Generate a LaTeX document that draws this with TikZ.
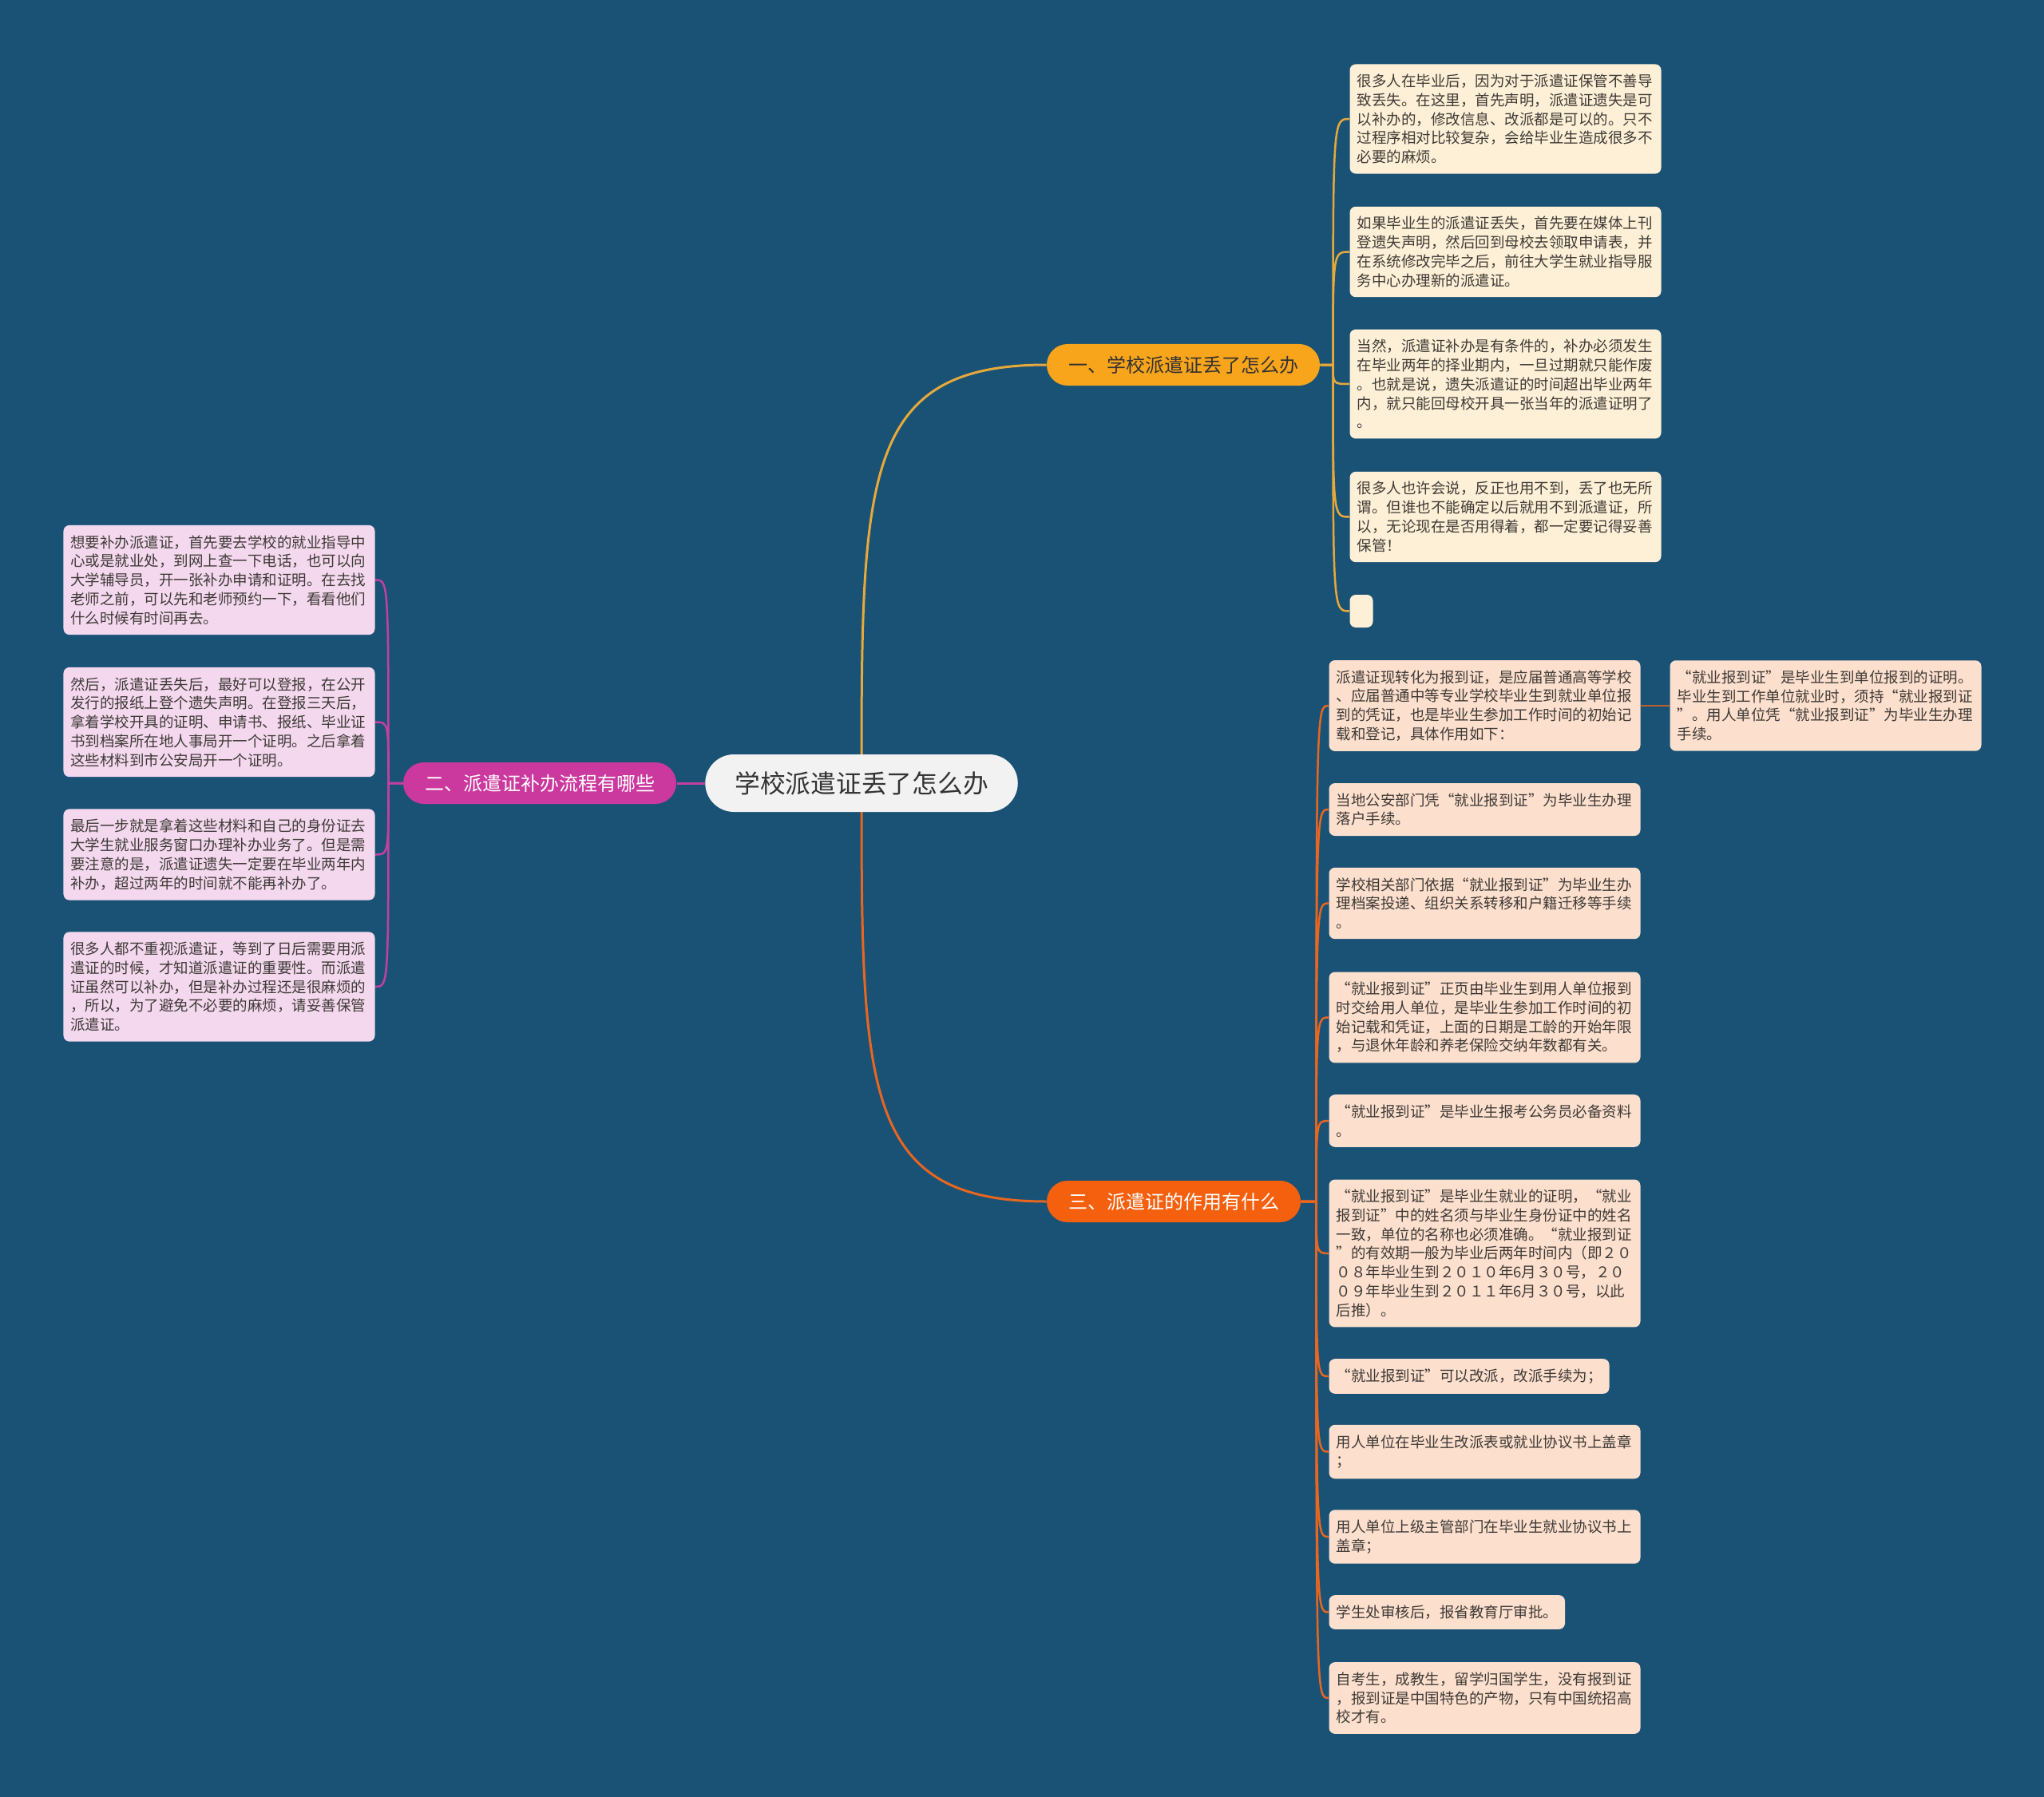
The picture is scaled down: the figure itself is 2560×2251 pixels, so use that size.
\documentclass[tikz,border=0pt]{standalone}
\usepackage{fontspec}
\newfontfamily\cjk{Noto Sans CJK SC}
\usetikzlibrary{positioning, calc, backgrounds}
\definecolor{bgBlue}{HTML}{1A5276}
\definecolor{mGold}{HTML}{F9A51C}
\definecolor{mGoldLine}{HTML}{E6A93A}
\definecolor{mPink}{HTML}{CB389E}
\definecolor{mPinkLine}{HTML}{C2409E}
\definecolor{mOrange}{HTML}{F5600F}
\definecolor{mOrangeLine}{HTML}{E8661F}
\definecolor{mRust}{HTML}{B9612F}
\definecolor{mCream}{HTML}{FEF0D6}
\definecolor{mRose}{HTML}{F4D8EE}
\definecolor{mPeach}{HTML}{FCDFCD}
\definecolor{mText}{HTML}{3E3A36}

\tikzset{
  topic/.style={rounded corners=10.4pt, minimum height=20.8pt, inner xsep=10.8pt, inner ysep=0pt,
    font=\cjk\fontsize{9.6}{11}\selectfont},
  leaf/.style={rounded corners=3pt, align=left, inner xsep=3.6pt, inner ysep=5pt, text=mText,
    font=\cjk\fontsize{7.4}{9.5}\selectfont},
  wide/.style={text width=148.8pt},
  branch/.style={line width=1.2pt},
  twig/.style={line width=1pt}
}

\begin{document}
\begin{tikzpicture}[x=0.4pt, y=-0.4pt]
    \node[topic, fill=black!5, text=black!80, minimum height=28.8pt, rounded corners=14.4pt, inner xsep=14.8pt,
      font=\cjk\fontsize{12.7}{14}\selectfont] (root) at (1079,981) {学校派遣证丢了怎么办};
    \node[topic, fill=mGold, text=black!80] (b1) at (1482,457) {一、学校派遣证丢了怎么办};
    \node[topic, fill=mPink, text=white] (b2) at (676,981) {二、派遣证补办流程有哪些};
    \node[topic, fill=mOrange, text=white] (b3) at (1470,1505) {三、派遣证的作用有什么};
    \coordinate (j1) at ([xshift=6.4pt]b1.east);
    \coordinate (j2) at ([xshift=-7.2pt]b2.west);
    \coordinate (j3) at ([xshift=7.6pt]b3.east);

    \foreach \n/\y/\t in {
      l1/149/{很多人在毕业后，因为对于派遣证保管不善导\\致丢失。在这里，首先声明，派遣证遗失是可\\以补办的，修改信息、改派都是可以的。只不\\过程序相对比较复杂，会给毕业生造成很多不\\必要的麻烦。},
      l2/315.5/{如果毕业生的派遣证丢失，首先要在媒体上刊\\登遗失声明，然后回到母校去领取申请表，并\\在系统修改完毕之后，前往大学生就业指导服\\务中心办理新的派遣证。},
      l3/481/{当然，派遣证补办是有条件的，补办必须发生\\在毕业两年的择业期内，一旦过期就只能作废\\。也就是说，遗失派遣证的时间超出毕业两年\\内，就只能回母校开具一张当年的派遣证明了\\。},
      l4/647.5/{很多人也许会说，反正也用不到，丢了也无所\\谓。但谁也不能确定以后就用不到派遣证，所\\以，无论现在是否用得着，都一定要记得妥善\\保管！}
    }{
      \node[leaf, wide, fill=mCream, anchor=west] (\n) at (1690,\y) {\t};
    }
    \node[leaf, fill=mCream, anchor=west, minimum width=11.6pt, minimum height=16.4pt] (l5) at (1690,765.5) {};

    \foreach \n/\y/\t in {
      p1/726.5/{想要补办派遣证，首先要去学校的就业指导中\\心或是就业处，到网上查一下电话，也可以向\\大学辅导员，开一张补办申请和证明。在去找\\老师之前，可以先和老师预约一下，看看他们\\什么时候有时间再去。},
      p2/904.5/{然后，派遣证丢失后，最好可以登报，在公开\\发行的报纸上登个遗失声明。在登报三天后，\\拿着学校开具的证明、申请书、报纸、毕业证\\书到档案所在地人事局开一个证明。之后拿着\\这些材料到市公安局开一个证明。},
      p3/1070.5/{最后一步就是拿着这些材料和自己的身份证去\\大学生就业服务窗口办理补办业务了。但是需\\要注意的是，派遣证遗失一定要在毕业两年内\\补办，超过两年的时间就不能再补办了。},
      p4/1236/{很多人都不重视派遣证，等到了日后需要用派\\遣证的时候，才知道派遣证的重要性。而派遣\\证虽然可以补办，但是补办过程还是很麻烦的\\，所以，为了避免不必要的麻烦，请妥善保管\\派遣证。}
    }{
      \node[leaf, wide, fill=mRose, anchor=east] (\n) at (470,\y) {\t};
    }

    \foreach \n/\y/\t in {
      r1/884/{派遣证现转化为报到证，是应届普通高等学校\\、应届普通中等专业学校毕业生到就业单位报\\到的凭证，也是毕业生参加工作时间的初始记\\载和登记，具体作用如下：},
      r2/1014/{当地公安部门凭“就业报到证”为毕业生办理\\落户手续。},
      r3/1131.5/{学校相关部门依据“就业报到证”为毕业生办\\理档案投递、组织关系转移和户籍迁移等手续\\。},
      r4/1274.5/{“就业报到证”正页由毕业生到用人单位报到\\时交给用人单位，是毕业生参加工作时间的初\\始记载和凭证，上面的日期是工龄的开始年限\\，与退休年龄和养老保险交纳年数都有关。},
      r5/1404/{“就业报到证”是毕业生报考公务员必备资料\\。},
      r6/1570/{“就业报到证”是毕业生就业的证明，“就业\\报到证”中的姓名须与毕业生身份证中的姓名\\一致，单位的名称也必须准确。“就业报到证\\”的有效期一般为毕业后两年时间内（即２０\\０８年毕业生到２０１０年6月３０号，２０\\０９年毕业生到２０１１年6月３０号，以此\\后推）。},
      r8/1818.5/{用人单位在毕业生改派表或就业协议书上盖章\\；},
      r9/1925/{用人单位上级主管部门在毕业生就业协议书上\\盖章；},
      r11/2127/{自考生，成教生，留学归国学生，没有报到证\\，报到证是中国特色的产物，只有中国统招高\\校才有。}
    }{
      \node[leaf, wide, fill=mPeach, anchor=west] (\n) at (1664,\y) {\t};
    }
    \node[leaf, fill=mPeach, anchor=west] (r7) at (1664,1724) {“就业报到证”可以改派，改派手续为；};
    \node[leaf, fill=mPeach, anchor=west] (r10) at (1664,2019.5) {学生处审核后，报省教育厅审批。};
    \node[leaf, wide, fill=mPeach, anchor=west] (r1c) at (2091,884) {“就业报到证”是毕业生到单位报到的证明。\\毕业生到工作单位就业时，须持“就业报到证\\”。用人单位凭“就业报到证”为毕业生办理\\手续。};

    \begin{scope}[on background layer]
      \fill[bgBlue] (0,0) rectangle (2560,2251);
      \draw[branch, mGoldLine] (root.center) .. controls ($(root.center)!.73!(root.center|-b1.west)$) and (root.center|-b1.west) .. (b1.west);
      \draw[branch, mOrangeLine] (root.center) .. controls ($(root.center)!.73!(root.center|-b3.west)$) and (root.center|-b3.west) .. (b3.west);
      \draw[branch, mPinkLine] (root.west) -- (b2.east);
      \foreach \n in {l1,l2,l3,l4,l5}
        \draw[twig, mGoldLine] (b1.east) -- (j1) .. controls (j1|-\n.west) .. (\n.west);
      \foreach \n in {p1,p2,p3,p4}
        \draw[twig, mPinkLine] (b2.west) -- (j2) .. controls (j2|-\n.east) .. (\n.east);
      \foreach \n in {r1,r2,r3,r4,r5,r6,r7,r8,r9,r10,r11}
        \draw[twig, mOrangeLine] (b3.east) -- (j3) .. controls (j3|-\n.west) .. (\n.west);
      \draw[twig, mRust] (r1.east) -- (r1c.west);
    \end{scope}
\end{tikzpicture}
\end{document}
